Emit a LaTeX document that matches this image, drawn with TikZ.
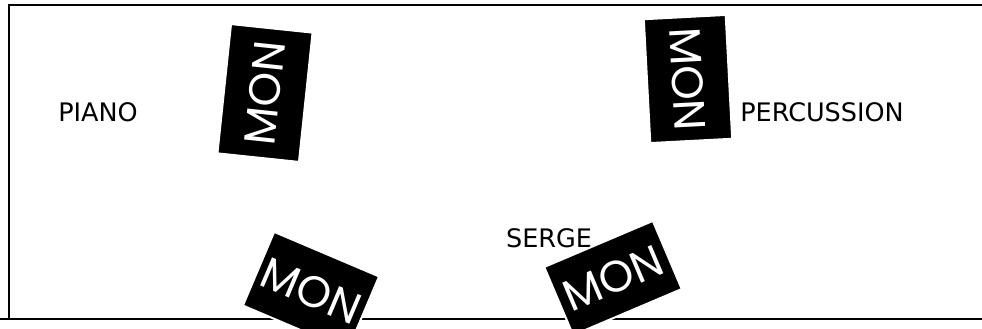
\documentclass[tikz,border=0pt]{standalone}
\usepackage{fontspec}
\setmainfont{DejaVu Sans}
\newfontfamily\monfont{Poppins}
\begin{document}
\begin{tikzpicture}[x=1pt,y=-1pt,
  card/.style={fill=black, draw=white, line width=2pt, inner sep=0pt},
  montext/.style={text=white, font=\monfont\fontsize{44}{44}\selectfont, inner sep=0pt},
  label/.style={font=\fontsize{25.5}{26}\selectfont, inner sep=0pt},
  frameline/.style={line width=2.4pt}]
\useasboundingbox (0,0) rectangle (982,329);
\clip (0,0) rectangle (982,329);
% frame
\coordinate (ftr) at (982,5);
\coordinate (ftl) at (9,5);
\coordinate (fbl) at (9,319);
\coordinate (bl) at (0,319);
\coordinate (br) at (982,319);
\draw[frameline] (ftr) -- (ftl) -- (fbl);
\draw[frameline] (bl) -- (br);
% labels
\node[label] (piano) at (98,112) {PIANO};
\node[label] (perc) at (822,112) {PERCUSSION};
\node[label] (serge) at (549,238) {SERGE};
% cards
\node[card, minimum width=82pt, minimum height=130pt, rotate=-6] (c1) at (265,93) {};
\node[montext, rotate=84] (t1) at (c1.center) {MON};
\node[card, minimum width=82pt, minimum height=124pt, rotate=3] (c2) at (688,79) {};
\node[montext, rotate=-87] (t2) at (c2.center) {MON};
\node[card, minimum width=114pt, minimum height=80pt, rotate=-23] (c3) at (311,291) {};
\node[montext, rotate=-23] (t3) at (c3.center) {MON};
\node[card, minimum width=118pt, minimum height=74pt, rotate=23] (c4) at (613,278) {};
\node[montext, rotate=23] (t4) at (c4.center) {MON};
\end{tikzpicture}
\end{document}
